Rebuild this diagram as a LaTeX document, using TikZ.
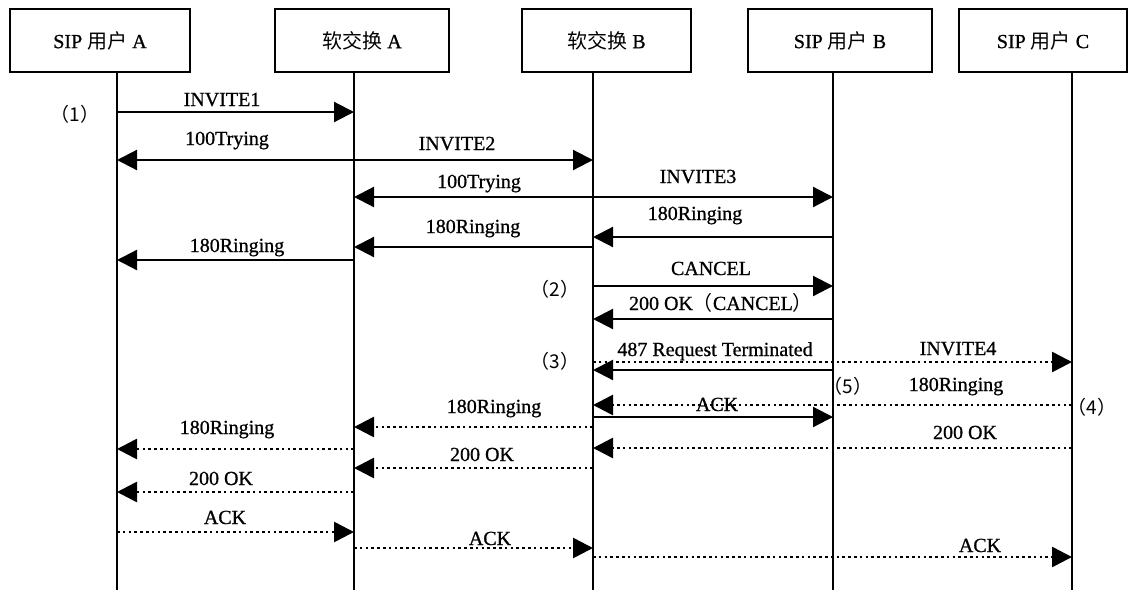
\documentclass[tikz,border=0pt]{standalone}
\usepackage{fontspec}
\setmainfont{Liberation Serif}[FakeBold=0.8]
\newfontfamily\cjk{Noto Sans CJK SC}
\usetikzlibrary{arrows.meta}
\begin{document}
\begin{tikzpicture}[x=1pt,y=-1pt,
  actor/.style={draw,line width=2pt,minimum height=63pt,inner sep=0pt,font=\fontsize{20}{24}\selectfont},
  life/.style={line width=2pt},
  msg/.style={line width=2.2pt,-{Triangle[length=20pt,width=20pt]}},
  dmsg/.style={msg,line width=2.6pt,dash pattern=on 2.6pt off 3.2pt},
  lbl/.style={anchor=base,inner sep=0pt,font=\fontsize{20}{24}\selectfont},
  tag/.style={anchor=center,inner sep=0pt,font=\fontsize{19}{22}\selectfont}]
\useasboundingbox (0,0) rectangle (1135,590);
% actor boxes
\node[actor,minimum width=180pt] (bA)  at (100,40.5)   {SIP {\cjk 用户} A};
\node[actor,minimum width=174pt] (bSA) at (362,40.5)   {{\cjk 软交换} A};
\node[actor,minimum width=169pt] (bSB) at (606.5,40.5) {{\cjk 软交换} B};
\node[actor,minimum width=184pt] (bB)  at (840,40.5)   {SIP {\cjk 用户} B};
\node[actor,minimum width=168pt] (bC)  at (1043,40.5)  {SIP {\cjk 用户} C};
% lifeline positions
\coordinate (A)  at (117,0);
\coordinate (SA) at (354,0);
\coordinate (SB) at (593,0);
\coordinate (B)  at (833,0);
\coordinate (C)  at (1072,0);
\draw[life] (bA.south -| A)   -- (A |- 0,590);
\draw[life] (bSA.south -| SA) -- (SA |- 0,590);
\draw[life] (bSB.south -| SB) -- (SB |- 0,590);
\draw[life] (bB.south -| B)   -- (B |- 0,590);
\draw[life] (bC.south -| C)   -- (C |- 0,590);
% messages
\draw[msg] (A |- 0,112) -- (SA |- 0,112);
\node[lbl] (l1) at (222,106) {INVITE1};
\node[tag] (t1) at (75,114) {\cjk （1）};

\draw[msg] (SA |- 0,160) -- (A |- 0,160);
\node[lbl] (l2) at (227,145) {100Trying};
\draw[msg] (SA |- 0,160) -- (SB |- 0,160);
\node[lbl] (l3) at (457,150) {INVITE2};

\draw[msg] (SB |- 0,197) -- (SA |- 0,197);
\node[lbl] (l4) at (479,188) {100Trying};
\draw[msg] (SB |- 0,197) -- (B |- 0,197);
\node[lbl] (l5) at (698,183) {INVITE3};

\draw[msg] (B |- 0,237) -- (SB |- 0,237);
\node[lbl] (l6) at (695,220) {180Ringing};
\draw[msg] (SB |- 0,247) -- (SA |- 0,247);
\node[lbl] (l7) at (473,233) {180Ringing};
\draw[msg] (SA |- 0,260) -- (A |- 0,260);
\node[lbl] (l8) at (237,252) {180Ringing};

\draw[msg] (SB |- 0,286) -- (B |- 0,286);
\node[lbl] (l9) at (711,275) {CANCEL};
\node[tag] (t2) at (555,289) {\cjk （2）};
\draw[msg] (B |- 0,319) -- (SB |- 0,319);
\node[lbl] (l10) at (721,310) {200 OK{\cjk （}CANCEL{\cjk ）}};

\draw[dmsg] (SB |- 0,362) -- (C |- 0,362);
\node[lbl] (l12) at (958,355) {INVITE4};
\draw[msg] (B |- 0,370) -- (SB |- 0,370);
\node[lbl] (l11) at (715,356) {487 Request Terminated};
\node[tag] (t3) at (555,361) {\cjk （3）};
\node[tag] (t5) at (848,386) {\cjk （5）};

\draw[dmsg] (C |- 0,405) -- (SB |- 0,405);
\node[lbl] (l13) at (956,391) {180Ringing};
\node[tag] (t4) at (1092,407) {\cjk （4）};
\draw[msg] (SB |- 0,417) -- (B |- 0,417);
\node[lbl] (l14) at (717,411) {ACK};

\draw[dmsg] (SB |- 0,427) -- (SA |- 0,427);
\node[lbl] (l15) at (494,413) {180Ringing};
\draw[dmsg] (SA |- 0,449) -- (A |- 0,449);
\node[lbl] (l16) at (227,434) {180Ringing};
\draw[dmsg] (C |- 0,448) -- (SB |- 0,448);
\node[lbl] (l17) at (965,439) {200 OK};
\draw[dmsg] (SB |- 0,468) -- (SA |- 0,468);
\node[lbl] (l18) at (482,461) {200 OK};
\draw[dmsg] (SA |- 0,492) -- (A |- 0,492);
\node[lbl] (l19) at (221,485) {200 OK};

\draw[dmsg] (A |- 0,532) -- (SA |- 0,532);
\node[lbl] (l20) at (225,524) {ACK};
\draw[dmsg] (SA |- 0,548) -- (SB |- 0,548);
\node[lbl] (l21) at (490,545) {ACK};
\draw[dmsg] (SB |- 0,557) -- (C |- 0,557);
\node[lbl] (l22) at (980,552) {ACK};
\end{tikzpicture}
\end{document}
